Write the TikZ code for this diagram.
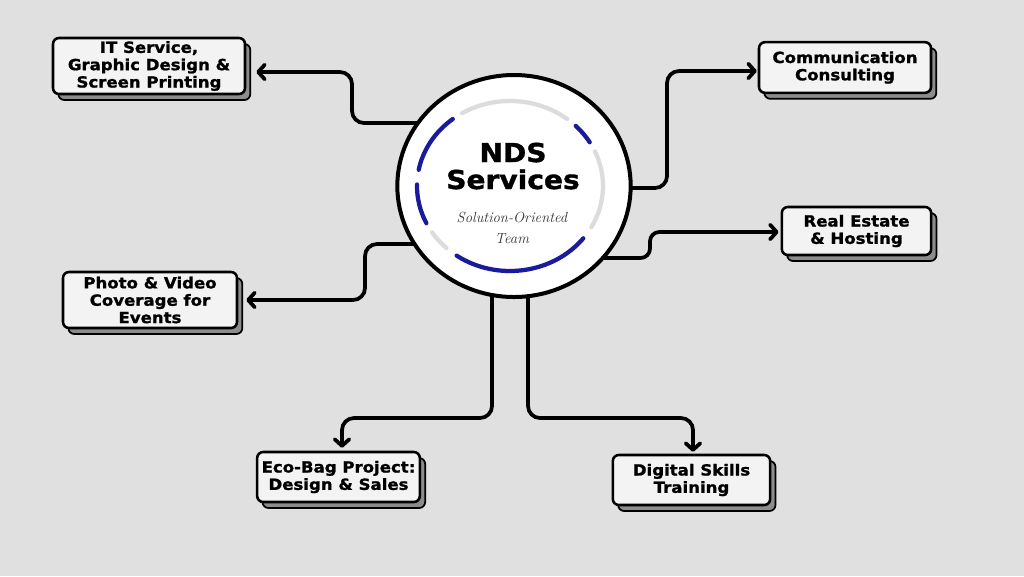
\documentclass[tikz,border=0pt]{standalone}
\usepackage{fontspec}
\newfontfamily\heavy{DejaVu Sans}[FakeStretch=1.08,BoldFeatures={FakeBold=1.3}]
\usetikzlibrary{arrows.meta,shadows,calc,shapes.geometric}
\definecolor{bgc}{HTML}{E0E0E0}
\definecolor{boxc}{HTML}{F3F3F3}
\definecolor{ringblue}{HTML}{1A1A9C}
\definecolor{ringgray}{HTML}{DCDCDC}
\pgfdeclarelayer{back}
\pgfdeclarelayer{lines}
\pgfsetlayers{back,lines,main}
\begin{document}
\begin{tikzpicture}[x=0.75pt,y=-0.75pt,
  svc/.style={draw=black,line width=1.9pt,rounded corners=4.5pt,fill=boxc,align=center,inner sep=0pt,
    font=\heavy\bfseries\fontsize{11.5}{13}\selectfont,
    general shadow={shadow xshift=4pt,shadow yshift=-4.5pt,draw=black,line width=1.3pt,fill=black!45}},
  conn/.style={line width=2.8pt,rounded corners=9pt,-{Straight Barb[length=5pt,width=11pt,round]}},
  ring/.style={line width=3.2pt,line cap=round}]
\begin{pgfonlayer}{back}
\fill[bgc] (0,0) rectangle (1024,576);
\end{pgfonlayer}
\useasboundingbox (0,0) rectangle (1024,576);

\node[ellipse,draw=black,line width=3pt,fill=white,minimum width=175pt,minimum height=166.5pt,inner sep=0pt] (circ) at (514,186) {};

\foreach \a/\b/\c in {52/121/ringgray,-29/24/ringgray,213/227/ringgray,31/45/ringblue,128/169/ringblue,179/206/ringblue,235/322/ringblue}
  \draw[ring,\c] ($(510,186)+(-\a:93 and 85)$) arc[start angle=-\a,end angle=-\b,x radius=93,y radius=85];

\node[font=\heavy\bfseries\fontsize{19.5}{20}\selectfont,anchor=base,inner sep=0pt] (t1) at (513,162) {NDS};
\node[font=\heavy\bfseries\fontsize{19.5}{20}\selectfont,anchor=base,inner sep=0pt] (t2) at (513,189) {Services};
\node[font=\itshape\fontsize{11}{16}\selectfont,text=black!80,anchor=base,inner sep=0pt] (t3) at (512,222) {Solution-Oriented};
\node[font=\itshape\fontsize{11}{16}\selectfont,text=black!80,anchor=base,inner sep=0pt] (t4) at (512,243) {Team};

\node[svc,minimum width=144pt,minimum height=42pt] (it) at (149,66) {IT Service,\\Graphic Design \&\\Screen Printing};
\node[svc,minimum width=129pt,minimum height=38pt] (comm) at (845,67.5) {Communication\\Consulting};
\node[svc,minimum width=112pt,minimum height=36pt] (real) at (856.5,231) {Real Estate\\\& Hosting};
\node[svc,minimum width=130.5pt,minimum height=42pt] (photo) at (150,300) {Photo \& Video\\Coverage for\\Events};
\node[svc,minimum width=122pt,minimum height=37.5pt] (eco) at (338.5,477) {Eco-Bag Project:\\Design \& Sales};
\node[svc,minimum width=118pt,minimum height=37.5pt] (dig) at (691.5,480) {Digital Skills\\Training};

\begin{pgfonlayer}{lines}
\draw[conn] (circ.center |- 0,123) -- (352,123) -- (352,72) -- ($(it.east |- 0,72)+(10,0)$);
\draw[conn] (circ.center |- 0,188) -- (667,188) -- (667,71) -- ($(comm.west |- 0,71)+(-1,0)$);
\draw[conn,rounded corners=7pt] (circ.center |- 0,258) -- (650,258) -- (650,232) -- ($(real.west |- 0,232)+(-2,0)$);
\draw[conn] (circ.center |- 0,244) -- (365,244) -- (365,300) -- ($(photo.east |- 0,300)+(8,0)$);
\draw[conn] (circ.center -| 492,0) -- (492,418) -- (342,418) -- ($(eco.north -| 342,0)+(0,-3)$);
\draw[conn] (circ.center -| 528,0) -- (528,418) -- (693,418) -- ($(dig.north -| 693,0)+(0,-2)$);
\end{pgfonlayer}
\end{tikzpicture}
\end{document}
